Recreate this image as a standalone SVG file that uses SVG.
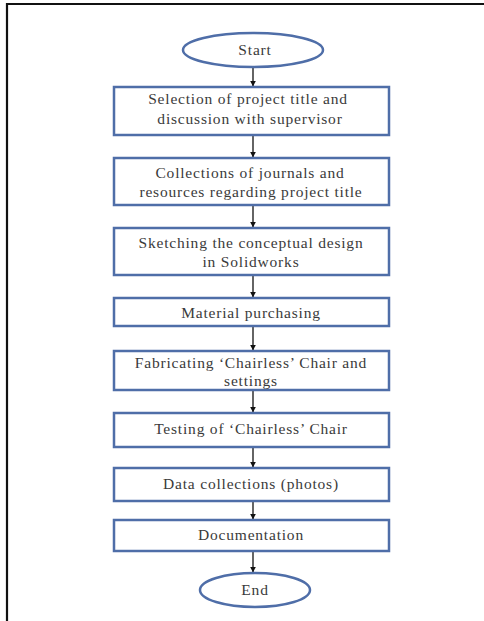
<svg xmlns="http://www.w3.org/2000/svg" width="484" height="621" viewBox="0 0 484 621">
<style>
.box{fill:#fff;stroke:#4f6ea8;stroke-width:2.5}
.t{font-family:"Liberation Serif","Times New Roman",serif;font-size:15.5px;letter-spacing:0.8px;fill:#3a3a3a;text-anchor:middle}
.c{stroke:#111;stroke-width:1.3;fill:none;marker-end:url(#ah)}
</style>
<defs>
<marker id="ah" viewBox="0 0 10 10" refX="9" refY="5" markerWidth="6" markerHeight="6" orient="auto" markerUnits="userSpaceOnUse">
<path d="M0,0 L10,5 L0,10 z" fill="#111"/>
</marker>
</defs>
<rect width="484" height="621" fill="#fff"/>
<g id="frame" stroke="#111" stroke-width="2.2" fill="none">
<path d="M7,621 L7,4 L484,4"/>
</g>
<g id="connectors">
<line class="c" x1="253" y1="67" x2="253" y2="86"/>
<line class="c" x1="253" y1="136" x2="253" y2="157"/>
<line class="c" x1="253" y1="206" x2="253" y2="227"/>
<line class="c" x1="253" y1="276" x2="253" y2="297"/>
<line class="c" x1="253" y1="327" x2="253" y2="350"/>
<line class="c" x1="253" y1="391" x2="253" y2="412"/>
<line class="c" x1="253" y1="448" x2="253" y2="467"/>
<line class="c" x1="253" y1="502" x2="253" y2="519"/>
<line class="c" x1="253" y1="552" x2="253" y2="572"/>
</g>
<g id="start">
<ellipse class="box" cx="253" cy="50" rx="70" ry="17"/>
<text class="t" x="255" y="55">Start</text>
</g>
<g id="n1">
<rect class="box" x="114" y="87" width="275" height="48"/>
<text class="t" x="248" y="104">Selection of project title and</text>
<text class="t" x="250" y="124">discussion with supervisor</text>
</g>
<g id="n2">
<rect class="box" x="114" y="158" width="275" height="47"/>
<text class="t" x="250" y="178">Collections of journals and</text>
<text class="t" x="251" y="197">resources regarding project title</text>
</g>
<g id="n3">
<rect class="box" x="114" y="228" width="275" height="47"/>
<text class="t" x="251" y="248">Sketching the conceptual design</text>
<text class="t" x="251" y="267">in Solidworks</text>
</g>
<g id="n4">
<rect class="box" x="114" y="298" width="275" height="28"/>
<text class="t" x="251" y="318">Material purchasing</text>
</g>
<g id="n5">
<rect class="box" x="114" y="351" width="275" height="39"/>
<text class="t" x="251" y="368">Fabricating ‘Chairless’ Chair and</text>
<text class="t" x="251" y="386">settings</text>
</g>
<g id="n6">
<rect class="box" x="114" y="413" width="275" height="34"/>
<text class="t" x="251" y="434">Testing of ‘Chairless’ Chair</text>
</g>
<g id="n7">
<rect class="box" x="114" y="468" width="275" height="33"/>
<text class="t" x="251" y="489">Data collections (photos)</text>
</g>
<g id="n8">
<rect class="box" x="114" y="520" width="275" height="31"/>
<text class="t" x="251" y="540">Documentation</text>
</g>
<g id="end">
<ellipse class="box" cx="255" cy="590" rx="55" ry="17"/>
<text class="t" x="255" y="595">End</text>
</g>
</svg>
